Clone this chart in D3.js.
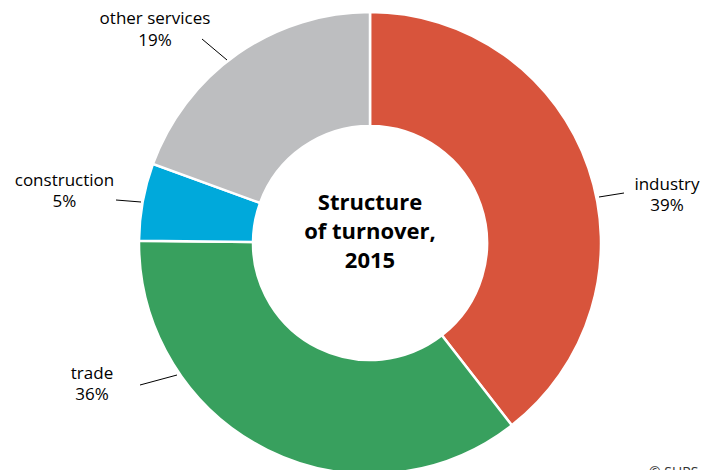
<!DOCTYPE html>
<html><head><meta charset="utf-8">
<script src="https://cdn.jsdelivr.net/npm/d3@7"></script>
<style>
html,body{margin:0;padding:0;background:#fff;}
svg{display:block;font-family:"Open Sans","Noto Sans",sans-serif;}
</style></head>
<body>
<svg id="chart" width="704" height="470"></svg>
<script>
const categories = ["industry", "trade", "construction", "other services"];
const shares = [39.4, 35.6, 5.4, 19.4];
const colors = ["#D8543C", "#38A05E", "#00A9DB", "#BDBEC0"];
const titleLines = ["Structure", "of turnover,", "2015"];
const source = "© SURS";

// label layout: [text centre x, first baseline y, leader start, leader end]
const labelLayout = [
  {tx: 667, ty: 189.5, l: [[599,197],[624,193]]},
  {tx: 92,  ty: 378.5, l: [[177,375],[140,385]]},
  {tx: 64.5, ty: 185.5, l: [[141,202],[116,200]]},
  {tx: 155, ty: 24, l: [[227,60],[202,39]]}
];

const svg = d3.select("#chart");
const cx = 370, cy = 243, rOuter = 231, rInner = 117;

const pie = d3.pie().sort(null).value(d => d);
const arc = d3.arc().innerRadius(rInner).outerRadius(rOuter);

const g = svg.append("g").attr("transform", `translate(${cx},${cy})`);
g.selectAll("path").data(pie(shares)).join("path")
  .attr("d", arc)
  .attr("fill", (d, i) => colors[i])
  .attr("stroke", "#fff")
  .attr("stroke-width", 2.5)
  .attr("stroke-linejoin", "miter");

// title
const t = svg.append("text").attr("text-anchor", "middle")
  .attr("font-weight", "bold").attr("font-size", 22).attr("fill", "#000");
titleLines.forEach((s, i) => {
  t.append("tspan").attr("x", cx).attr("y", 210 + i * 29).text(s);
});

// labels
categories.forEach((c, i) => {
  const L = labelLayout[i];
  svg.append("line")
    .attr("x1", L.l[0][0]).attr("y1", L.l[0][1])
    .attr("x2", L.l[1][0]).attr("y2", L.l[1][1])
    .attr("stroke", "#000").attr("stroke-width", 1);
  const tx = svg.append("text").attr("text-anchor", "middle")
    .attr("font-size", 17).attr("fill", "#000");
  tx.append("tspan").attr("x", L.tx).attr("y", L.ty).text(c);
  tx.append("tspan").attr("x", L.tx).attr("y", L.ty + 21.5)
    .text(Math.round(shares[i]) + "%");
});

svg.append("text").attr("x", 649).attr("y", 477)
  .attr("font-size", 14).attr("fill", "#333").text(source);
</script>
</body></html>
